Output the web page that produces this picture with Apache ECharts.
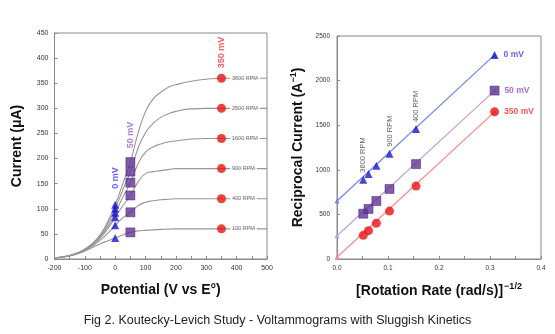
<!DOCTYPE html>
<html><head><meta charset="utf-8">
<script src="https://cdn.jsdelivr.net/npm/echarts@6/dist/echarts.min.js"></script>
<style>html,body{margin:0;padding:0;background:#fff}#c{width:555px;height:334px}</style>
</head><body><div id="c"></div>
<script>
// ---- Left panel: voltammograms ----
const potentials = [-200,-175,-150,-125,-100,-75,-50,-25,0,25,50,75,100,125,150,175,200,250,300,350,400,450,500];
const rpmNames = ['100 RPM','400 RPM','900 RPM','1600 RPM','2500 RPM','3600 RPM'];
const curve100  = [2, 3.5, 6, 10, 16, 23, 30, 36, 42, 48, 53, 56, 57, 58, 59, 59.5, 60, 60, 60, 60, 60, 60, 60];
const curve400  = [2, 4, 6.5, 11, 17, 26, 37, 51, 67, 82, 93, 106, 113, 116, 118, 119, 120, 120, 120, 120, 120, 120, 120];
const curve900  = [2, 4, 7, 11, 18, 28, 41, 60, 83, 106, 126.5, 153, 170, 174, 176, 178, 180, 180, 180, 180, 180, 180, 180];
const curve1600 = [2, 4, 7, 12, 19, 29, 44, 65, 92, 123, 152, 189, 213, 223, 229, 233, 235, 239, 240, 240, 240, 240, 240];
const curve2500 = [2, 4, 7, 12, 19, 30, 46, 70, 100, 138, 174, 220, 252, 270, 282, 289, 294, 299, 300, 300, 300, 300, 300];
const curve3600 = [2, 4, 7, 12, 20, 31, 48, 74, 108, 150, 193, 250, 294, 319, 332, 342, 347, 354, 358, 360, 360, 360, 360];
const pot0 = 0, pot50 = 50, pot350 = 350;
const current0mV   = [42, 67, 83, 92, 100, 108];
const current50mV  = [53, 93, 126.5, 152, 174, 193];
const current350mV = [60, 120, 180, 240, 300, 360];
// ---- Right panel: Koutecky-Levich ----
const rateInvSqrt = [0.0515, 0.0618, 0.0772, 0.103, 0.155, 0.309];
const recip0mV   = [889, 952, 1045, 1180, 1456, 2288];
const recip50mV  = [508, 561, 650, 785, 1064, 1888];
const recip350mV = [265, 318, 400, 537, 817, 1650];
const intercept0mV = 650, intercept50mV = 260, intercept350mV = 20;
const rpmShort = ['3600 RPM', '', '', '900 RPM', '400 RPM', ''];
const leftXTicks = [-200, 500, 100];
const leftYTicks = [0, 450, 50];
const rightXTicks = [0, 0.4, 0.1];
const rightYTicks = [0, 2500, 500];

const FONT = 'Liberation Sans, Arial, sans-serif';
const BLUE = '#1515d8', PURPLE = '#62329a', RED = '#ee1010';
const curves = [curve100, curve400, curve900, curve1600, curve2500, curve3600];

const series = [];
curves.forEach((c, i) => {
  series.push({
    type: 'line', xAxisIndex: 0, yAxisIndex: 0, symbol: 'none', smooth: 0.5,
    lineStyle: { color: '#969696', width: 1.1 }, z: 1, silent: true,
    data: potentials.map((p, k) => [p, c[k]])
  });
});
function topLabel(text, color, dist, size) {
  return { show: true, formatter: text, position: 'top', distance: dist, rotate: 90,
           align: 'left', verticalAlign: 'middle', color: color, fontSize: size,
           fontWeight: 'bold', fontFamily: FONT };
}
series.push({
  type: 'scatter', xAxisIndex: 0, yAxisIndex: 0, symbol: 'triangle', symbolSize: 8,
  itemStyle: { color: BLUE }, z: 3,
  data: current0mV.map((v, i) => i === current0mV.length - 1
    ? { value: [pot0, v], label: topLabel('0 mV', '#3b3bff', 12, 9) } : [pot0, v])
});
series.push({
  type: 'scatter', xAxisIndex: 0, yAxisIndex: 0, symbol: 'rect', symbolSize: 9,
  itemStyle: { color: PURPLE, borderColor: '#3d2060', borderWidth: 0.6 }, z: 3,
  data: current50mV.map((v, i) => i === current50mV.length - 1
    ? { value: [pot50, v], label: topLabel('50 mV', '#9a5fd6', 9, 9) } : [pot50, v])
});
series.push({
  type: 'scatter', xAxisIndex: 0, yAxisIndex: 0, symbol: 'circle', symbolSize: 9,
  itemStyle: { color: RED }, z: 3,
  label: { show: true, position: 'right', distance: 4, fontSize: 5.5, color: '#444',
           backgroundColor: '#fff', padding: [1, 2], fontFamily: FONT,
           formatter: p => rpmNames[p.dataIndex] },
  data: current350mV.map(v => [pot350, v])
});
series.push({
  type: 'scatter', xAxisIndex: 0, yAxisIndex: 0, symbolSize: 0, silent: true,
  data: [{ value: [pot350, current350mV[5]], label: topLabel('350 mV', '#ff3030', 10, 9) }]
});

// right panel
function klLine(recip, inter, color) {
  series.push({
    type: 'line', xAxisIndex: 1, yAxisIndex: 1, symbol: 'triangle', symbolSize: 5,
    showSymbol: true, itemStyle: { color: color }, lineStyle: { color: color, width: 1.2 }, z: 1,
    data: [[0, inter], [rateInvSqrt[rateInvSqrt.length - 1], recip[recip.length - 1]]]
  });
}
klLine(recip0mV, intercept0mV, '#7183f7');
klLine(recip50mV, intercept50mV, '#b9a2df');
klLine(recip350mV, intercept350mV, '#ff8585');
function endLabel(text, color) {
  return { show: true, formatter: text, position: 'right', distance: 5, color: color,
           fontSize: 8.5, fontWeight: 'bold', fontFamily: FONT };
}
series.push({
  type: 'scatter', xAxisIndex: 1, yAxisIndex: 1, symbol: 'triangle', symbolSize: 8,
  itemStyle: { color: BLUE }, z: 3,
  data: rateInvSqrt.map((x, i) => {
    const item = { value: [x, recip0mV[i]] };
    if (rpmShort[i]) item.label = { show: true, formatter: rpmShort[i], position: 'top', distance: 3,
      rotate: 90, align: 'left', verticalAlign: 'middle', fontSize: 7.5, color: '#333', fontFamily: FONT };
    if (i === rateInvSqrt.length - 1) item.label = endLabel('0 mV', '#3b3bee');
    return item;
  })
});
series.push({
  type: 'scatter', xAxisIndex: 1, yAxisIndex: 1, symbol: 'rect', symbolSize: 9,
  itemStyle: { color: PURPLE, borderColor: '#3d2060', borderWidth: 0.6 }, z: 3,
  data: rateInvSqrt.map((x, i) => i === rateInvSqrt.length - 1
    ? { value: [x, recip50mV[i]], label: endLabel('50 mV', '#8a4fc6') } : [x, recip50mV[i]])
});
series.push({
  type: 'scatter', xAxisIndex: 1, yAxisIndex: 1, symbol: 'circle', symbolSize: 9,
  itemStyle: { color: RED }, z: 3,
  data: rateInvSqrt.map((x, i) => i === rateInvSqrt.length - 1
    ? { value: [x, recip350mV[i]], label: endLabel('350 mV', '#ff2a2a') } : [x, recip350mV[i]])
});

const axisCommon = {
  axisLine: { show: true, onZero: false, lineStyle: { color: '#8a8a8a' } },
  axisTick: { show: true, inside: true, length: 3, lineStyle: { color: '#8a8a8a' } },
  minorTick: { show: false },
  splitLine: { show: false },
  axisLabel: { fontSize: 7, color: '#333', fontFamily: FONT, margin: 6, formatter: v => String(v) },
  nameTextStyle: { fontSize: 14, fontWeight: 'bold', color: '#111', fontFamily: FONT },
  nameLocation: 'middle'
};
const chart = echarts.init(document.getElementById('c'), null, { renderer: 'canvas' });
chart.setOption({
  animation: false,
  backgroundColor: '#fff',
  grid: [
    { left: 54.5, top: 33, width: 212.5, height: 226, show: true, borderColor: '#8a8a8a', borderWidth: 1 },
    { left: 337, top: 36, width: 204, height: 223, show: true, borderColor: '#8a8a8a', borderWidth: 1 }
  ],
  xAxis: [
    Object.assign({}, axisCommon, { gridIndex: 0, type: 'value', min: leftXTicks[0], max: leftXTicks[1],
      interval: leftXTicks[2], name: 'Potential (V vs E°)', nameGap: 24,
      minorTick: { show: true, splitNumber: 2, length: 3, lineStyle: { color: '#8a8a8a' } } }),
    Object.assign({}, axisCommon, { gridIndex: 1, type: 'value', min: rightXTicks[0], max: rightXTicks[1],
      interval: rightXTicks[2], nameGap: 23,
      name: '{a|[Rotation Rate (rad/s)]}{b|−1/2}',
      nameTextStyle: { rich: {
        a: { fontSize: 14, fontWeight: 'bold', color: '#111', fontFamily: FONT },
        b: { fontSize: 9, fontWeight: 'bold', color: '#111', fontFamily: FONT, padding: [0, 0, 9, 1] } } },
      axisLabel: { fontSize: 6.5, color: '#333', fontFamily: FONT, margin: 6, formatter: v => v.toFixed(1) },
      minorTick: { show: true, splitNumber: 2, length: 3, lineStyle: { color: '#8a8a8a' } } })
  ],
  yAxis: [
    Object.assign({}, axisCommon, { gridIndex: 0, type: 'value', min: leftYTicks[0], max: leftYTicks[1],
      interval: leftYTicks[2], name: 'Current (μA)', nameGap: 30 }),
    Object.assign({}, axisCommon, { gridIndex: 1, type: 'value', min: rightYTicks[0], max: rightYTicks[1],
      interval: rightYTicks[2], nameGap: 30,
      name: '{a|Reciprocal Current (A}{b|−1}{a|)}',
      nameTextStyle: { rich: {
        a: { fontSize: 14, fontWeight: 'bold', color: '#111', fontFamily: FONT },
        b: { fontSize: 9, fontWeight: 'bold', color: '#111', fontFamily: FONT, padding: [0, 0, 9, 0] } } },
      axisLabel: { fontSize: 6.5, color: '#333', fontFamily: FONT, margin: 7, formatter: v => String(v) } })
  ],
  graphic: [{
    type: 'text', left: 'center', top: 314,
    style: { text: 'Fig 2. Koutecky-Levich Study - Voltammograms with Sluggish Kinetics',
             fontSize: 12.5, fill: '#222', fontFamily: FONT }
  }],
  series: series
});
</script></body></html>
